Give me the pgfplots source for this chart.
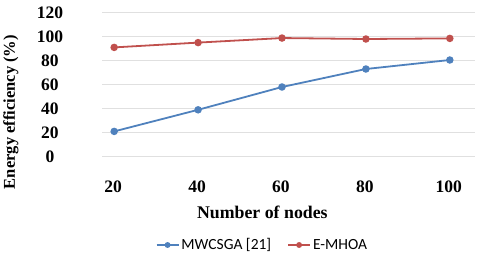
\documentclass[border=0pt]{standalone}
\usepackage{pgfplots}
\pgfplotsset{compat=1.18}
\usepackage{fontspec}
\setmainfont{Liberation Serif}
\newfontfamily\legfont{Carlito}
\definecolor{cblue}{HTML}{4F81BD}
\definecolor{cred}{HTML}{C0504D}
\begin{document}
\begin{tikzpicture}[x=1pt,y=1pt]
\path[use as bounding box] (0,0) rectangle (480,258);
\begin{axis}[
  at={(102pt,102pt)}, anchor=south west,
  scale only axis, width=373pt, height=144pt,
  xmin=17.1, xmax=106, ymin=0, ymax=120,
  xtick={20,40,60,80,100}, ytick={0,20,...,120},
  axis line style={draw=none}, major tick length=0pt,
  ymajorgrids, grid style={black!12, line width=1pt},
  /pgf/number format/assume math mode=true,
  ticklabel style={font=\fontsize{17.5}{19}\selectfont\bfseries},
  yticklabel style={anchor=center, xshift=-52pt, yshift=-1pt},
  xticklabel style={anchor=center, yshift=-31pt, xshift=-1pt},
  ylabel={Energy efficiency (\%)},
  ylabel style={at={(axis description cs:-0.244,0.305)}, anchor=center, font=\fontsize{16.5}{18}\selectfont\bfseries},
  xlabel={Number of nodes},
  xlabel style={at={(axis description cs:0.43,-0.39)}, anchor=center, font=\fontsize{17.8}{19}\selectfont\bfseries},
  legend style={at={(axis description cs:0.43,-0.618)}, anchor=center, draw=none, fill=none,
    legend columns=2, font=\legfont\fontsize{15.5}{17}\selectfont,
    /tikz/every even column/.append style={column sep=14pt},
    legend cell align=left},
  legend image code/.code={\draw[mark repeat=2,mark phase=2,#1,mark size=2pt] plot coordinates {(0pt,0pt)(11pt,0pt)(22pt,0pt)};},
]
\addplot[color=cblue, line width=1.8pt, mark=*, mark size=2.8pt] coordinates {
  (20,20.5) (40,38.5) (60,57.5) (80,72.5) (100,80)};
\addlegendentry{MWCSGA [21]}
\addplot[color=cred, line width=1.8pt, mark=*, mark size=2.8pt] coordinates {
  (20,90.5) (40,94.5) (60,98.3) (80,97.5) (100,98)};
\addlegendentry{E-MHOA}
\end{axis}
\end{tikzpicture}
\end{document}
